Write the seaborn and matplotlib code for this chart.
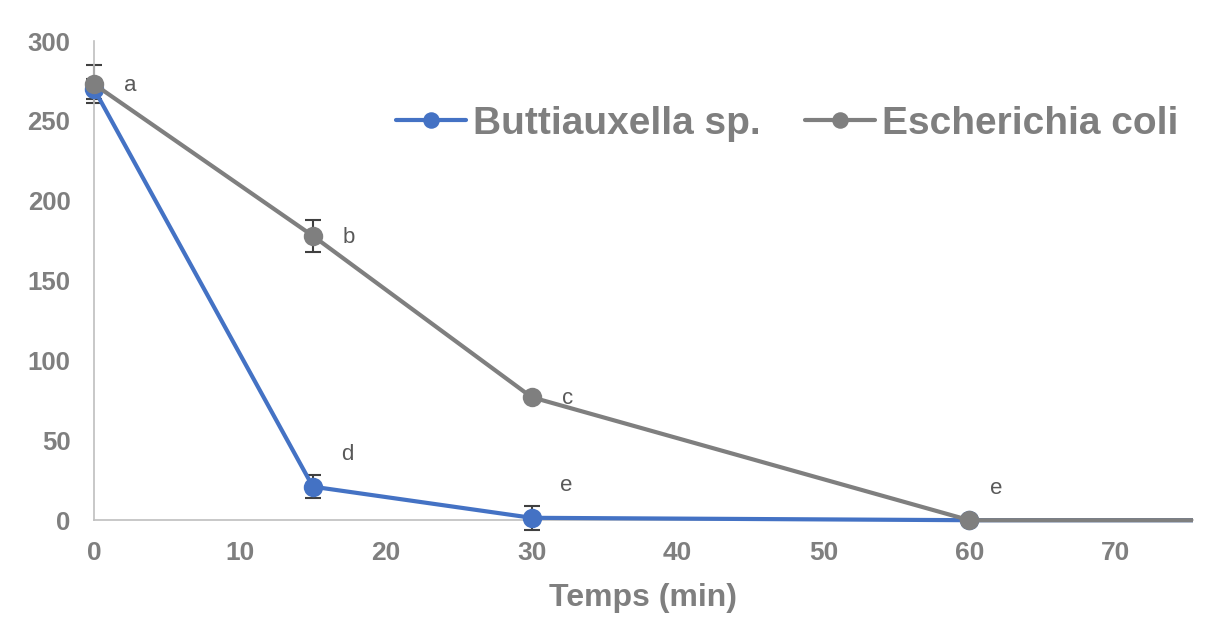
import numpy as np
import pandas as pd
import matplotlib
matplotlib.use("Agg")
import matplotlib.pyplot as plt
from matplotlib.transforms import Bbox, TransformedBbox
import seaborn as sns

# data
temps = [0, 15, 30, 60, 90]
butti = [270, 21, 1.5, 0, 0]
butti_err = [6, 7, 7.5, 0, 0]
ecoli = [273, 178, 77, 0, 0]
ecoli_err = [12, 10, 0, 0, 0]
butti_letters = ["", "d", "e", "", ""]
ecoli_letters = ["a", "b", "c", "e", ""]

series_names = ["Buttiauxella sp.", "Escherichia coli"]
colors = ["#4472C4", "#7F7F7F"]

sns.set_theme(style="white")
plt.rcParams["font.family"] = ["Liberation Sans", "DejaVu Sans"]

df = pd.DataFrame({
    "Temps": temps * 2,
    "val": butti + ecoli,
    "err": butti_err + ecoli_err,
    "serie": [series_names[0]] * len(temps) + [series_names[1]] * len(temps),
})

fig = plt.figure(figsize=(12.07, 6.26), dpi=100)
ax = fig.add_axes([0.0779, 0.169, 0.9101, 0.7655])

for name, col in zip(series_names, colors):
    sub = df[df["serie"] == name]
    eb = ax.errorbar(sub["Temps"], sub["val"], yerr=sub["err"], fmt="none",
                     ecolor="#404040", elinewidth=1.5, capsize=5.5, capthick=1.5, zorder=2)
    for art in eb.lines[1] + eb.lines[2]:
        art.set_clip_on(False)

sns.lineplot(data=df, x="Temps", y="val", hue="serie", palette=colors,
             hue_order=series_names, marker="o", markersize=14, markeredgewidth=0,
             linewidth=3, ax=ax, zorder=3)

# clip only on the right so edge markers are drawn whole
clip = TransformedBbox(Bbox([[-0.05, -0.05], [1.0, 1.05]]), ax.transAxes)
for ln in ax.lines:
    ln.set_clip_box(clip)

for x, y, t in zip(temps, butti, butti_letters):
    if t:
        ax.annotate(t, (x, y), xytext=(25, 23), textcoords="offset points",
                    ha="center", va="center", fontsize=16, color="#595959")
for x, y, t in zip(temps, ecoli, ecoli_letters):
    if t:
        ax.annotate(t, (x, y), xytext=(26, -1) if t != "e" else (19, 23),
                    textcoords="offset points", ha="center", va="center",
                    fontsize=16, color="#595959")

ax.set_xlim(0, 75.3)
ax.set_ylim(0, 300)
ax.set_xticks(np.arange(0, 71, 10))
ax.set_yticks(np.arange(0, 301, 50))
ax.tick_params(axis="y", length=0, labelsize=18.5, labelcolor="#7F7F7F", pad=17)
ax.tick_params(axis="x", length=0, labelsize=19, labelcolor="#7F7F7F", pad=15)
for lab in ax.get_xticklabels() + ax.get_yticklabels():
    lab.set_fontweight("bold")
ax.set_xlabel("Temps (min)", fontsize=23, fontweight="bold", color="#7F7F7F", labelpad=13)
ax.set_ylabel("")

for s in ["top", "right"]:
    ax.spines[s].set_visible(False)
ax.spines["left"].set_color("#BFBFBF")
ax.spines["bottom"].set_color("#BFBFBF")
ax.spines["left"].set_linewidth(1.2)
ax.spines["bottom"].set_linewidth(1.2)

leg = ax.legend(loc="upper right", bbox_to_anchor=(1.012, 0.921), ncol=2, frameon=False,
                prop={"size": 28, "weight": "bold"}, handlelength=1.8, markerscale=0.85,
                columnspacing=1.15, handletextpad=0.18, borderpad=0.2)
for txt in leg.get_texts():
    txt.set_color("#7F7F7F")

fig.savefig("out.png", dpi=100)
